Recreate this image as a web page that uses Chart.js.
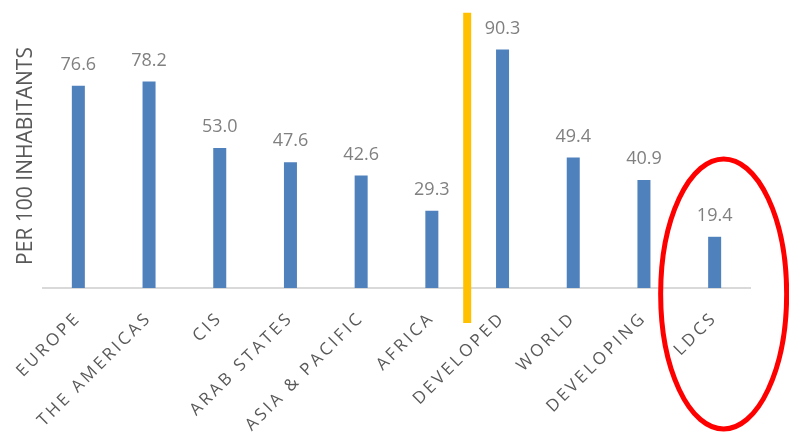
<!DOCTYPE html>
<html>
<head>
<meta charset="utf-8">
<script src="https://cdn.jsdelivr.net/npm/chart.js@4"></script>
<style>
  html, body { margin: 0; padding: 0; background: #fff; }
  #wrap { width: 789px; height: 437px; }
</style>
</head>
<body>
<div id="wrap"><canvas id="chart"></canvas></div>
<script>
const regions = ['EUROPE', 'THE AMERICAS', 'CIS', 'ARAB STATES', 'ASIA & PACIFIC', 'AFRICA',
                 'DEVELOPED', 'WORLD', 'DEVELOPING', 'LDCS'];
const perHundred = [76.6, 78.2, 53.0, 47.6, 42.6, 29.3, 90.3, 49.4, 40.9, 19.4];
const yTitle = 'PER 100 INHABITANTS';

// split between regional and development-level groups, and the highlighted group
const dividerAt = 5.5;
const highlightIdx = 9;

const FONT = "'Open Sans', sans-serif";

// value label above every bar
const valueLabels = {
    id: 'valueLabels',
    afterDatasetsDraw(chart) {
        const ctx = chart.ctx;
        const meta = chart.getDatasetMeta(0);
        ctx.save();
        ctx.font = '18px ' + FONT;
        ctx.fillStyle = '#808080';
        ctx.textAlign = 'center';
        ctx.textBaseline = 'alphabetic';
        meta.data.forEach((bar, i) => {
            ctx.fillText(perHundred[i].toFixed(1), bar.x, bar.y - 16);
        });
        ctx.restore();
    }
};

// wider letter spacing on the category labels only
const spacedTicks = {
    id: 'spacedTicks',
    beforeDraw(chart) {
        const sx = chart.scales.x;
        if (sx._spaced) return;
        const orig = sx.drawLabels.bind(sx);
        sx.drawLabels = function(area) {
            this.ctx.save();
            this.ctx.letterSpacing = '3px';
            orig(area);
            this.ctx.restore();
        };
        sx._spaced = true;
    }
};

// yellow divider and red ring round the LDC bar
const callouts = {
    id: 'callouts',
    afterDraw(chart) {
        const ctx = chart.ctx;
        const x = chart.scales.x, y = chart.scales.y;
        const area = chart.chartArea;
        ctx.save();

        const dx = x.getPixelForValue(dividerAt);
        ctx.strokeStyle = '#ffc000';
        ctx.lineWidth = 8;
        ctx.beginPath();
        ctx.moveTo(dx, y.getPixelForValue(104.3));
        ctx.lineTo(dx, area.bottom + 35);
        ctx.stroke();

        const cx = x.getPixelForValue(highlightIdx) + 9;
        ctx.strokeStyle = '#ff0000';
        ctx.lineWidth = 5;
        ctx.beginPath();
        ctx.ellipse(cx, area.bottom + 6, 63, 135, 0, 0, Math.PI * 2);
        ctx.stroke();

        ctx.restore();
    }
};

new Chart(document.getElementById('chart'), {
    type: 'bar',
    data: {
        labels: regions,
        datasets: [{
            data: perHundred,
            backgroundColor: '#4f81bd',
            borderWidth: 0,
            categoryPercentage: 0.8,
            barPercentage: 0.23
        }]
    },
    options: {
        responsive: true,
        maintainAspectRatio: false,
        animation: false,
        layout: { padding: { left: 2, right: 39, top: 24, bottom: 0 } },
        plugins: {
            legend: { display: false },
            tooltip: { enabled: false }
        },
        scales: {
            x: {
                grid: { display: false, drawTicks: false },
                border: { display: true, color: '#d9d9d9', width: 2 },
                ticks: {
                    color: '#595959',
                    font: { family: FONT, size: 17 },
                    minRotation: 45,
                    maxRotation: 45,
                    padding: 20,
                    autoSkip: false
                },
                afterFit(scale) { scale.height = 149; }
            },
            y: {
                min: 0,
                max: 100,
                grid: { display: false, drawTicks: false },
                border: { display: false },
                ticks: { display: false },
                title: {
                    display: true,
                    text: yTitle,
                    color: '#595959',
                    font: { family: FONT, size: 21 },
                    padding: { top: 11, bottom: 0 }
                },
                afterFit(scale) { scale.width = 41; }
            }
        }
    },
    plugins: [spacedTicks, valueLabels, callouts]
});
</script>
</body>
</html>
